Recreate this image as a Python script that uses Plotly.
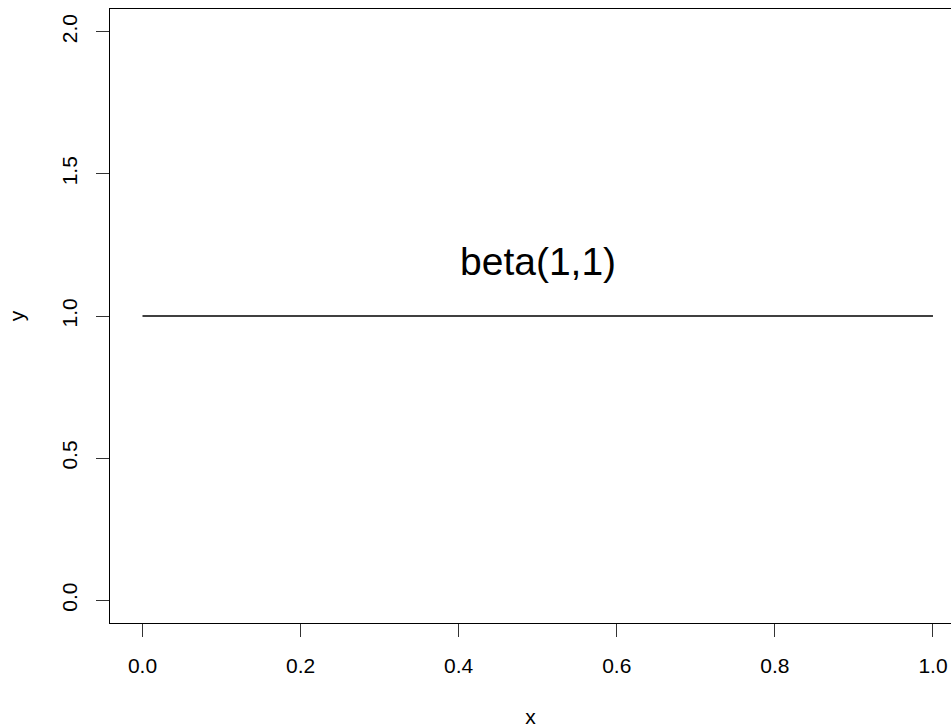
import plotly.graph_objects as go

# data
x_vals = [0.0, 1.0]
y_vals = [1.0, 1.0]
x_ticks = [0.0, 0.2, 0.4, 0.6, 0.8, 1.0]
x_tick_labels = ["0.0", "0.2", "0.4", "0.6", "0.8", "1.0"]
y_ticks = [0.0, 0.5, 1.0, 1.5, 2.0]
y_tick_labels = ["0.0", "0.5", "1.0", "1.5", "2.0"]
label_text = "beta(1,1)"
label_pos = (0.5, 1.19)

FONT = "Liberation Sans, Arial, sans-serif"

fig = go.Figure()
fig.add_trace(go.Scatter(x=x_vals, y=y_vals, mode="lines",
                         line=dict(color="black", width=1.3),
                         showlegend=False, hoverinfo="skip"))

fig.add_annotation(x=label_pos[0], y=label_pos[1], text=label_text,
                   showarrow=False, xanchor="center", yanchor="middle",
                   font=dict(family=FONT, size=39, color="black"))

fig.update_layout(
    width=951, height=728,
    margin=dict(l=110, r=0, t=9, b=105),
    paper_bgcolor="white", plot_bgcolor="white",
    font=dict(family=FONT, color="black"),
    xaxis=dict(range=[-0.0411, 1.0228], tickvals=x_ticks, ticktext=x_tick_labels,
               showgrid=False, zeroline=False, showline=True, mirror=True,
               linecolor="black", linewidth=1.3,
               ticks="outside", ticklen=13, tickwidth=1.3, tickcolor="#333",
               tickfont=dict(size=21, family=FONT, color="black"),
               ticklabelstandoff=11,
               title=dict(text="x", font=dict(size=21, family=FONT), standoff=33)),
    yaxis=dict(range=[-0.08, 2.08], tickvals=y_ticks, ticktext=y_tick_labels,
               showgrid=False, zeroline=False, showline=True, mirror=False,
               linecolor="black", linewidth=1.3,
               ticks="outside", ticklen=13, tickwidth=1.3, tickcolor="#333",
               tickangle=-90,
               tickfont=dict(size=21, family=FONT, color="black"),
               ticklabelstandoff=10,
               title=dict(text="y", font=dict(size=21, family=FONT), standoff=28)),
)

fig.write_html("out.html")
